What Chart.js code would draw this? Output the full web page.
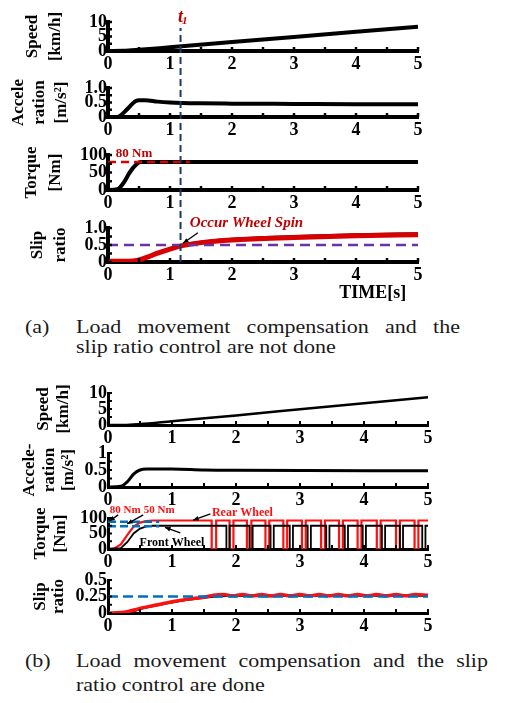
<!DOCTYPE html>
<html><head><meta charset="utf-8">
<script src="https://cdn.jsdelivr.net/npm/chart.js@4.4.1/dist/chart.umd.min.js"></script>
<style>
html,body{margin:0;padding:0;background:#fff}
body{width:507px;height:703px;position:relative;overflow:hidden;font-family:"Liberation Serif","Times New Roman",serif}
canvas{position:absolute}
.cap{position:absolute;font-size:22px;line-height:22px;color:#1a1a1a;transform:scale(1,0.82);transform-origin:0 0;white-space:nowrap}
.just{text-align:justify;text-align-last:justify;white-space:normal}
</style></head><body>
<div class="cap" style="left:25px;top:318px">(a)</div>
<div class="cap just" style="left:76px;top:318px;width:384px">Load movement compensation and the</div>
<div class="cap" style="left:76px;top:338px">slip ratio control are not done</div>
<div class="cap" style="left:25px;top:652px">(b)</div>
<div class="cap just" style="left:76px;top:652px;width:412px">Load movement compensation and the slip</div>
<div class="cap" style="left:76px;top:676px">ratio control are done</div>
<script>
// ---------- DATA ----------
const timeTicks = [0, 1, 2, 3, 4, 5];

// (a) no compensation, no slip control
const speedA = [[0,0],[0.25,0.05],[0.5,0.4],[1,1.3],[2,3.1],[3,4.8],[4,6.6],[5,8.4]];
const accelA = [[0,0],[0.1,-0.01],[0.15,0],[0.2,0.05],[0.3,0.25],[0.4,0.47],[0.45,0.55],[0.5,0.58],[0.6,0.58],[0.8,0.53],[1,0.5],[1.5,0.47],[2,0.46],[3,0.45],[4,0.44],[5,0.44]];
const torqueA = [[0,0],[0.15,2],[0.25,20],[0.35,50],[0.45,72],[0.52,80],[0.6,80],[5,80]];
const torqueRefA = [[0,80],[1.32,80]];
const slipRedA = [[0,0.02],[0.4,0.03],[0.6,0.12],[0.8,0.26],[1,0.38],[1.2,0.48],[1.5,0.57],[2,0.65],[3,0.72],[4,0.77],[5,0.8]];
const slipBlackA = [[0,0],[0.4,0.01],[0.6,0.1],[0.8,0.25],[1,0.38],[1.2,0.49],[1.5,0.58],[2,0.67],[3,0.75],[4,0.8],[5,0.83]];
const slipLimitA = [[0,0.5],[5,0.5]];
const t1Line = [[1.17,0],[1.17,1]];

// (b) with compensation and slip control
const speedB = [[0,0],[0.25,0.02],[0.5,0.3],[1,1.2],[2,3.0],[3,4.9],[4,6.8],[5,8.7]];
const accelB = [[0,0],[0.2,0.02],[0.3,0.15],[0.4,0.38],[0.5,0.5],[0.6,0.53],[1,0.53],[1.5,0.5],[2,0.49],[5,0.48]];
const rearRiseB = [[0,0],[0.1,2],[0.2,15],[0.3,45],[0.4,72],[0.5,85],[0.6,90],[0.7,92]];
const rearLevelB = 92;
const rearDipsB = [[1.62,1.69],[1.90,1.96],[2.17,2.24],[2.46,2.52],[2.74,2.80],[3.03,3.09],[3.33,3.39],[3.61,3.67],[3.90,3.96],[4.20,4.26],[4.50,4.56],[4.79,4.85]];
const frontRiseB = [[0,0],[0.2,3],[0.3,22],[0.4,50],[0.5,66],[0.6,73],[0.7,75]];
const frontLevelB = 75;
const frontDipsB = [[1.85,1.90],[2.21,2.26],[2.54,2.59],[2.84,2.89],[3.12,3.17],[3.41,3.46],[3.70,3.75],[3.98,4.03],[4.28,4.33],[4.56,4.61],[4.91,4.96]];
const refRearB = [[0,88],[0.8,88]];
const refFrontB = [[0,73],[0.8,73]];
const slipRedB = [[0,0],[0.25,0.01],[0.5,0.07],[0.75,0.12],[1,0.17],[1.25,0.21],[1.5,0.24],[1.65,0.27],[1.8,0.28],[1.95,0.26],[2.1,0.28],[2.25,0.26],[2.4,0.28],[2.55,0.26],[2.7,0.28],[2.85,0.26],[3.0,0.28],[3.15,0.26],[3.3,0.28],[3.45,0.26],[3.6,0.28],[3.75,0.26],[3.9,0.28],[4.05,0.26],[4.2,0.28],[4.35,0.26],[4.5,0.28],[4.65,0.26],[4.8,0.28],[5,0.27]];
const slipBlackB = [[0,0],[0.3,0],[0.5,0.06],[1,0.16],[1.5,0.23],[1.7,0.25],[2,0.26],[2.5,0.255],[3,0.26],[4,0.26],[5,0.26]];
const slipTargetB = [[0,0.25],[5,0.25]];

// tick labels
const speedTicks = [0,5,10], speedLabels = ['0','5','10'];
const accelTicks = [0,0.5,1], accelLabelsA = ['0','0.5','1.0'], accelLabelsB = ['0','0.5','1'];
const torqueTicks = [0,50,100], torqueLabels = ['0','50','100'];
const slipTicksA = [0,0.5,1], slipLabelsA = ['0','0.5','1.0'];
const slipTicksB = [0,0.25,0.5], slipLabelsB = ['0','0.25','0.5'];

// ---------- RENDER ----------
const FAM = '"Liberation Serif","Times New Roman",serif';
function withDips(rise, level, dips) {
  const out = rise.slice();
  for (const [a, b] of dips) out.push([a, level], [a, 0], [b, 0], [b, level]);
  out.push([5, level]);
  return out;
}
function ds(pairs, color, w, extra) {
  return Object.assign({data: pairs.map(([x, y]) => ({x, y})), borderColor: color, borderWidth: w,
    pointRadius: 0, fill: false, cubicInterpolationMode: 'monotone'}, extra || {});
}
const dash = (d) => ({borderDash: d, cubicInterpolationMode: 'default', tension: 0});
const step = {cubicInterpolationMode: 'default', tension: 0};

const decoPlugin = {
  id: 'deco',
  afterDatasetsDraw(chart, args, o) {
    const ctx = chart.ctx, xs = chart.scales.x, ys = chart.scales.y, ca = chart.chartArea;
    ctx.save();
    if (o.axisTicks) {
      ctx.strokeStyle = '#000'; ctx.lineWidth = o.tickW || 2;
      for (let i = 0; i <= 10; i++) {
        const px = xs.getPixelForValue(i / 2);
        ctx.beginPath(); ctx.moveTo(px, ca.bottom); ctx.lineTo(px, ca.bottom - 4); ctx.stroke();
      }
      const tv = ys.ticks.map(t => t.value);
      const all = [];
      tv.forEach((v, i) => { all.push(v); if (i < tv.length - 1) all.push((v + tv[i + 1]) / 2); });
      all.forEach(v => {
        const py = ys.getPixelForValue(v);
        ctx.beginPath(); ctx.moveTo(ca.left, py); ctx.lineTo(ca.left + 4, py); ctx.stroke();
      });
    }
    (o.texts || []).forEach(t => {
      ctx.font = t.font; ctx.fillStyle = t.color; ctx.textAlign = t.align || 'center'; ctx.textBaseline = 'middle';
      const px = xs.getPixelForValue(t.x);
      const py = (t.y != null ? ys.getPixelForValue(t.y) : ca.bottom) + (t.dy || 0);
      ctx.fillText(t.text, px, py);
      if (t.sub) {
        const w = ctx.measureText(t.text).width;
        ctx.font = t.subFont; ctx.textAlign = 'left';
        ctx.fillText(t.sub, px + (t.align === 'left' ? w : w / 2) - 1, py + 4);
      }
    });
    (o.arrows || []).forEach(a => {
      const x1 = xs.getPixelForValue(a.from[0]), y1 = ys.getPixelForValue(a.from[1]);
      const x2 = xs.getPixelForValue(a.to[0]), y2 = ys.getPixelForValue(a.to[1]);
      ctx.strokeStyle = '#000'; ctx.fillStyle = '#000'; ctx.lineWidth = 1.3;
      ctx.beginPath(); ctx.moveTo(x1, y1); ctx.lineTo(x2, y2); ctx.stroke();
      const ang = Math.atan2(y2 - y1, x2 - x1), s = 6;
      ctx.beginPath(); ctx.moveTo(x2, y2);
      ctx.lineTo(x2 - s * Math.cos(ang - 0.4), y2 - s * Math.sin(ang - 0.4));
      ctx.lineTo(x2 - s * Math.cos(ang + 0.4), y2 - s * Math.sin(ang + 0.4));
      ctx.closePath(); ctx.fill();
    });
    ctx.restore();
  }
};
Chart.register(decoPlugin);

function panel(p) {
  const c = document.createElement('canvas');
  const padTop = 22, xH = 26, extra = p.extraBottom || 0;
  const h = padTop + (p.bottom - p.top) + xH + extra;
  c.width = p.w; c.height = h;
  c.style.left = '0px'; c.style.top = (p.top - padTop) + 'px';
  c.style.width = p.w + 'px'; c.style.height = h + 'px';
  document.body.appendChild(c);
  new Chart(c, {
    type: 'line',
    data: {datasets: p.datasets},
    options: {
      responsive: false, animation: false, devicePixelRatio: 1,
      layout: {padding: {top: padTop, right: p.w - p.right, left: 0, bottom: extra}},
      plugins: {legend: {display: false}, tooltip: {enabled: false}, deco: Object.assign({axisTicks: true, tickW: p.axisW / 2 + 0.5}, p.deco || {})},
      elements: {point: {radius: 0}},
      scales: {
        x: {
          type: 'linear', min: 0, max: 5,
          afterBuildTicks: s => { s.ticks = timeTicks.map(v => ({value: v})); },
          ticks: {callback: v => String(v), font: {family: FAM, size: 18, weight: 'bold'}, color: '#000', padding: 3, autoSkip: false, maxRotation: 0},
          grid: {display: false, drawTicks: false},
          border: {display: true, color: '#000', width: p.axisW},
          afterFit: s => { s.height = xH; }
        },
        y: {
          type: 'linear', min: p.yTicks[0], max: p.yTicks[p.yTicks.length - 1],
          afterBuildTicks: s => { s.ticks = p.yTicks.map(v => ({value: v})); },
          ticks: {callback: (v, i) => p.yLabels[i], font: {family: FAM, size: 18, weight: 'bold'}, color: '#000', padding: 1, autoSkip: false},
          grid: {display: false, drawTicks: false},
          border: {display: true, color: '#000', width: p.axisW},
          title: {display: true, text: p.title, color: '#000', font: {family: FAM, size: 17, weight: 'bold', lineHeight: p.lh}, padding: {top: p.tpad, bottom: 0}},
          afterFit: s => { s.width = 108; }
        }
      }
    }
  });
}

const RED_A = '#d80000', RED_TXT = '#c00000', RED_B = '#ff1010';
const bFontA = 'bold 13px ' + FAM;
const bFontB = 'bold 12px ' + FAM;

// Panel (a)
panel({w: 430, right: 418, top: 22, bottom: 51, axisW: 4, yTicks: speedTicks, yLabels: speedLabels,
  title: ['Speed', '[km/h]'], lh: 1.3, tpad: 22,
  datasets: [ds(speedA, '#000', 4)]});
panel({w: 430, right: 418, top: 88, bottom: 117, axisW: 4, yTicks: accelTicks, yLabels: accelLabelsA,
  title: ['Accele', 'ration', '[m/s²]'], lh: 1.25, tpad: 8,
  datasets: [ds(accelA, '#000', 4)]});
panel({w: 430, right: 418, top: 155, bottom: 190, axisW: 4, yTicks: torqueTicks, yLabels: torqueLabels,
  title: ['Torque', '[Nm]'], lh: 1.4, tpad: 20,
  datasets: [ds(torqueRefA, RED_A, 2.5, dash([8, 5])), ds(torqueA, '#000', 4)],
  deco: {texts: [{x: 0.42, y: 104, text: '80 Nm', color: RED_TXT, font: bFontA}]}});
panel({w: 430, right: 418, top: 228, bottom: 262, axisW: 4, yTicks: slipTicksA, yLabels: slipLabelsA,
  title: ['Slip', 'ratio'], lh: 1.3, tpad: 27, extraBottom: 20,
  datasets: [ds(slipLimitA, '#7030a0', 2.5, dash([10, 6])), ds(slipRedA, RED_A, 5), ds(slipBlackA, '#000', 3)],
  deco: {texts: [{x: 1.32, y: 1.15, text: 'Occur Wheel Spin', color: RED_TXT, font: 'italic bold 15px ' + FAM, align: 'left'},
                 {x: 4.27, y: 0, dy: 31, text: 'TIME[s]', color: '#000', font: 'bold 18px ' + FAM}],
         arrows: [{from: [1.45, 0.86], to: [1.21, 0.55]}]}});

// Panel (b)
panel({w: 440, right: 428, top: 393, bottom: 425, axisW: 3, yTicks: speedTicks, yLabels: speedLabels,
  title: ['Speed', '[km/h]'], lh: 1.2, tpad: 33,
  datasets: [ds(speedB, '#000', 2.5)]});
panel({w: 440, right: 428, top: 453, bottom: 487, axisW: 3, yTicks: accelTicks, yLabels: accelLabelsB,
  title: ['Accele-', 'ration', '[m/s²]'], lh: 1.15, tpad: 20,
  datasets: [ds(accelB, '#000', 3)]});
panel({w: 440, right: 428, top: 518, bottom: 549, axisW: 3, yTicks: torqueTicks, yLabels: torqueLabels,
  title: ['Torque', '[Nm]'], lh: 1.2, tpad: 30,
  datasets: [
    ds(refRearB, '#0070c0', 2.5, dash([8, 4])),
    ds(refFrontB, '#0070c0', 2.5, dash([8, 4])),
    ds(withDips(frontRiseB, frontLevelB, frontDipsB), '#000', 1.8, step),
    ds(withDips(rearRiseB, rearLevelB, rearDipsB), RED_B, 2.2, step)],
  deco: {texts: [
      {x: 0.27, y: 126, text: '80 Nm', color: RED_B, font: 'bold 11px ' + FAM},
      {x: 0.8, y: 126, text: '50 Nm', color: RED_B, font: 'bold 11px ' + FAM},
      {x: 2.1, y: 116, text: 'Rear Wheel', color: RED_B, font: bFontB},
      {x: 1.0, y: 19, text: 'Front Wheel', color: '#000', font: bFontB}],
    arrows: [
      {from: [0.16, 110], to: [0.02, 90]},
      {from: [0.55, 110], to: [0.3, 81]},
      {from: [1.6, 113], to: [1.33, 93]},
      {from: [1.13, 52], to: [0.89, 70]}]}});
panel({w: 440, right: 428, top: 580, bottom: 613, axisW: 3, yTicks: slipTicksB, yLabels: slipLabelsB,
  title: ['Slip', 'ratio'], lh: 1.05, tpad: 32,
  datasets: [ds(slipTargetB, '#0070c0', 2.5, dash([10, 5])), ds(slipRedB, RED_B, 3.5), ds(slipBlackB, '#000', 2)]});

// t1 overlay for (a)
(function () {
  const c = document.createElement('canvas');
  c.width = 430; c.height = 275; c.style.left = '0px'; c.style.top = '0px';
  document.body.appendChild(c);
  new Chart(c, {
    type: 'line',
    data: {datasets: [ds(t1Line, '#1f3864', 2, dash([7, 4]))]},
    options: {
      responsive: false, animation: false, devicePixelRatio: 1,
      layout: {padding: {top: 28, left: 108, right: 12, bottom: 13}},
      plugins: {legend: {display: false}, tooltip: {enabled: false},
        deco: {texts: [{x: 1.17, y: 1, dy: -11, text: 't', sub: '1', color: RED_TXT, font: 'italic bold 18px ' + FAM, subFont: 'italic bold 11px ' + FAM}]}},
      scales: {x: {type: 'linear', min: 0, max: 5, display: false}, y: {min: 0, max: 1, display: false}}
    }
  });
})();
</script>
</body></html>
